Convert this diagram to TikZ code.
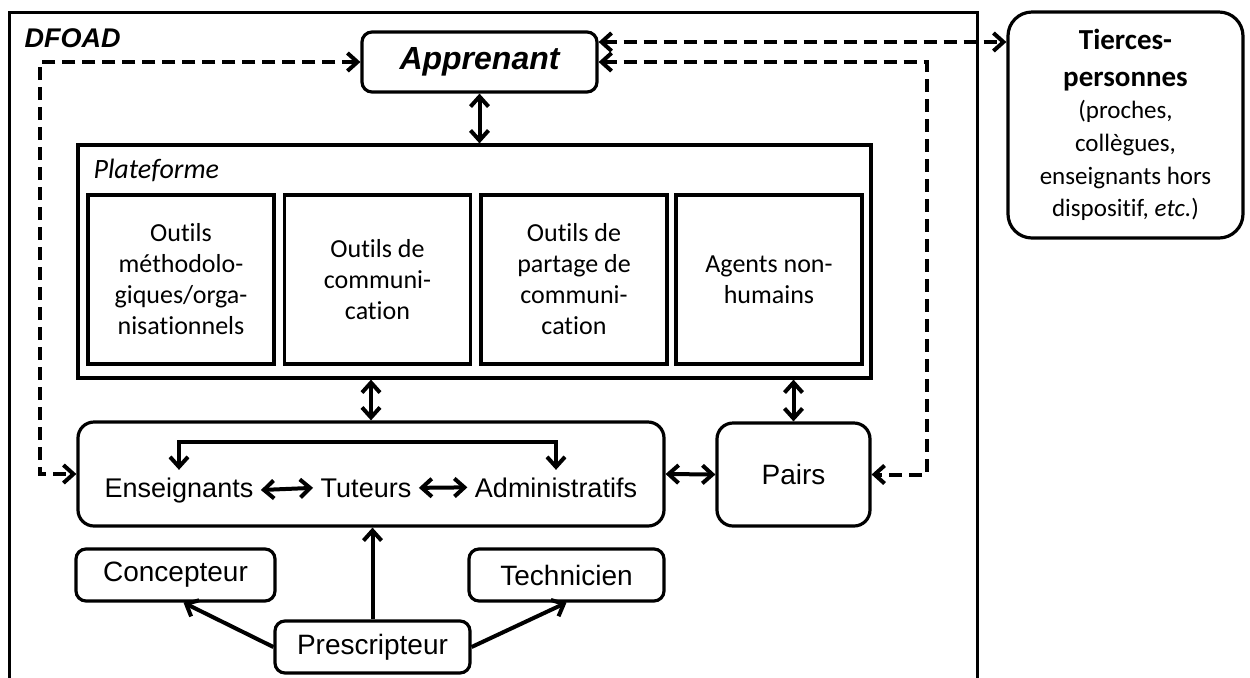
\documentclass[tikz,border=0pt]{standalone}
\usepackage{fontspec}
\setmainfont{Liberation Sans}
\newfontfamily\calib[Ligatures=NoCommon]{Carlito}
\usetikzlibrary{arrows.meta}

\begin{document}
\begin{tikzpicture}[x=0.5pt,y=-0.5pt,line width=1.6pt,
  rbox/.style={draw,rounded corners=5pt,inner sep=0pt,font=\fontsize{14}{16}\selectfont},
  tool/.style={draw,inner sep=0pt,minimum width=93pt,minimum height=84.5pt,align=center,font=\calib\fontsize{13}{15.5}\selectfont},
  role/.style={anchor=base,inner sep=3pt,font=\fontsize{13.5}{16}\selectfont},
  dbl/.style={line width=2pt,{Straight Barb[length=5pt,width=9pt]}-{Straight Barb[length=5pt,width=9pt]}},
  sgl/.style={line width=2pt,-{Straight Barb[length=5pt,width=9pt]}},
  dsh/.style={dash pattern=on 6.5pt off 3.5pt}]
\useasboundingbox (0,0) rectangle (1250,677);
\draw[line width=1.5pt] (9,682) -- (9,12) -- (977,12) -- (977,682);
\draw (23,38) node[anchor=west,inner sep=0pt,font=\bfseries\itshape\fontsize{13.5}{16}\selectfont](dfoad) {DFOAD};

\draw (479.5,62) node[rbox,minimum width=117.5pt,minimum height=30pt,font=\bfseries\itshape\fontsize{16}{18}\selectfont](app) {Apprenant};
\draw (1125.5,125) node[draw,rounded corners=12pt,minimum width=117.5pt,minimum height=113pt,inner sep=0pt,align=center,font=\calib\fontsize{12.5}{15.3}\selectfont](tier) {\bfseries\fontsize{14.5}{16.5}\selectfont Tierces-\\[3pt]\bfseries\fontsize{14.5}{16.5}\selectfont personnes\\[1pt](proches,\\[1pt]collègues,\\[1pt]enseignants hors\\[1pt]dispositif, \textit{etc.})};

\draw (474.5,261.5) node[draw,minimum width=396.5pt,minimum height=116.5pt,inner sep=0pt](plat) {};
\draw (92,170) node[anchor=west,inner sep=0pt,font=\calib\itshape\fontsize{14}{16}\selectfont](platlbl) {Plateforme};
\draw (181,279.5) node[tool](meth) {Outils\\méthodolo-\\giques/orga-\\nisationnels};
\draw (377.5,279.5) node[tool](comm) {Outils de\\communi-\\cation};
\draw (574,279.5) node[tool](part) {Outils de\\partage de\\communi-\\cation};
\draw (769,279.5) node[tool](agent) {Agents non-\\humains};

\draw (371,474) node[rbox,rounded corners=8pt,minimum width=293pt,minimum height=52pt](equipe) {};
\draw (793.5,474.5) node[rbox,rounded corners=8pt,minimum width=76.5pt,minimum height=51.5pt](pairs) {Pairs};
\draw (179,497) node[role](ens) {Enseignants};
\draw (366,497) node[role](tut) {Tuteurs};
\draw (556,497) node[role](adm) {Administratifs};

\draw (175.5,575) node[rbox,minimum width=99.5pt,minimum height=26pt](conc) {Concepteur};
\draw (566.5,575) node[rbox,minimum width=97.5pt,minimum height=26pt](tech) {Technicien};
\draw (372.5,647) node[rbox,minimum width=97.5pt,minimum height=26pt](pres) {Prescripteur};

\draw[dbl] (app.south) -- (plat.north -| app.south);
\draw[dbl] (equipe.north) -- (equipe.north |- plat.south);
\draw[dbl] (pairs.north) -- (pairs.north |- plat.south);
\draw[dbl] (equipe.east) -- (pairs.west);
\draw[dbl] (ens.east) -- (tut.west);
\draw[dbl] (tut.east) -- (adm.west);
\draw[dbl] (ens.north) -- ++(0,14pt) -| (adm.north);
\draw[sgl] (pres.north) -- (pres.north |- equipe.south);
\draw[sgl] (pres.west) -- ([xshift=4pt]conc.south);
\draw[sgl] (pres.east) -- (tech.south);

\draw[dbl,dsh] ([yshift=10pt]app.east) -- ([yshift=10pt]app.east -| tier.west);
\draw[dbl,dsh] (app.east) -| ([xshift=27.5pt]pairs.east) -- (pairs.east);
\draw[dbl,dsh] (app.west) -| ([xshift=-18pt]equipe.west) -- (equipe.west);
\end{tikzpicture}
\end{document}
